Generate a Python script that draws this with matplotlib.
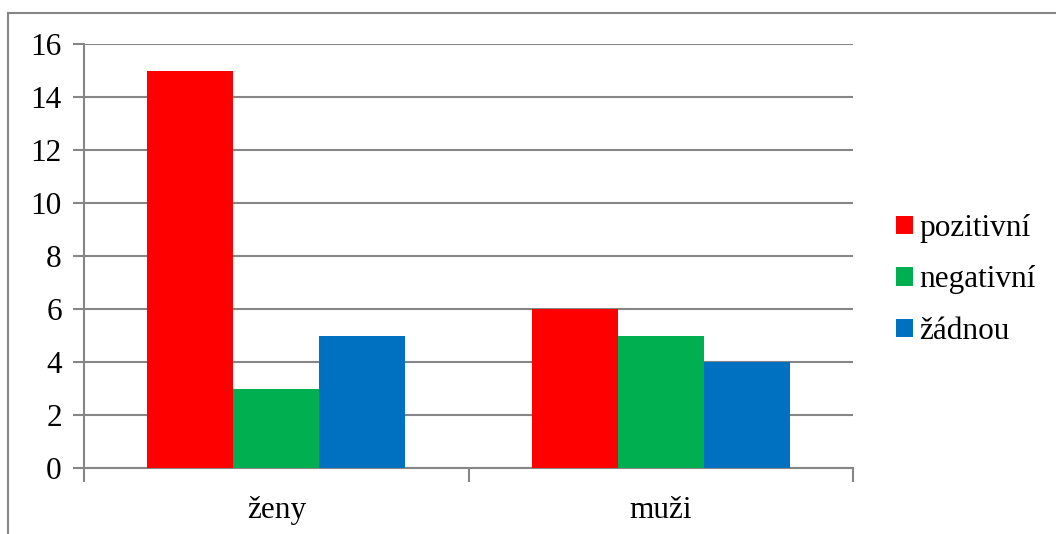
import numpy as np
import matplotlib.pyplot as plt
from matplotlib.lines import Line2D

# data
categories = ['ženy', 'muži']
series_names = ['pozitivní', 'negativní', 'žádnou']
pozitivni = [15, 6]
negativni = [3, 5]
zadnou = [5, 4]
colors = ['#FF0000', '#00B050', '#0070C0']

plt.rcParams['font.family'] = ['Liberation Serif', 'DejaVu Serif']
plt.rcParams['font.size'] = 22.5

W, H = 1056, 534
fig = plt.figure(figsize=(W / 100, H / 100), dpi=100)
ax = fig.add_axes([84 / W, (H - 468) / H, (853 - 84) / W, (468 - 44) / H])

x = np.arange(len(categories))
bw = 0.224
for i, (vals, name) in enumerate(zip([pozitivni, negativni, zadnou], series_names)):
    ax.bar(x + (i - 1) * bw, vals, bw, color=colors[i], label=name, zorder=3)

grid_c = '#868686'
ax.set_xlim(-0.5, 1.5)
ax.set_ylim(0, 16)
ax.set_yticks(range(0, 17, 2))
ax.yaxis.grid(True, color=grid_c, linewidth=1.5, zorder=0)
ax.set_xticks(x)
ax.set_xticklabels(categories)
ax.set_xticks([-0.5, 0.5, 1.5], minor=True)
ax.tick_params(axis='x', which='major', length=0, pad=20)
ax.tick_params(axis='x', which='minor', length=10, width=1.5, color=grid_c)
ax.tick_params(axis='y', length=8, width=1.5, color=grid_c, pad=8)
for s in ['top', 'right']:
    ax.spines[s].set_visible(False)
for s in ['left', 'bottom']:
    ax.spines[s].set_color(grid_c)
    ax.spines[s].set_linewidth(1.5)

leg = fig.legend(loc='center left', bbox_to_anchor=(880 / W, (H - 280) / H),
                 frameon=False, handlelength=0.55, handleheight=0.55,
                 handletextpad=0.2, labelspacing=0.72, borderpad=0)

# outer chart frame
fig.add_artist(Line2D([8 / W, 8 / W], [0, (H - 13) / H], color=grid_c, linewidth=1.5))
fig.add_artist(Line2D([8 / W, 1], [(H - 13) / H, (H - 13) / H], color=grid_c, linewidth=1.5))

fig.savefig('out.png', dpi=100)
